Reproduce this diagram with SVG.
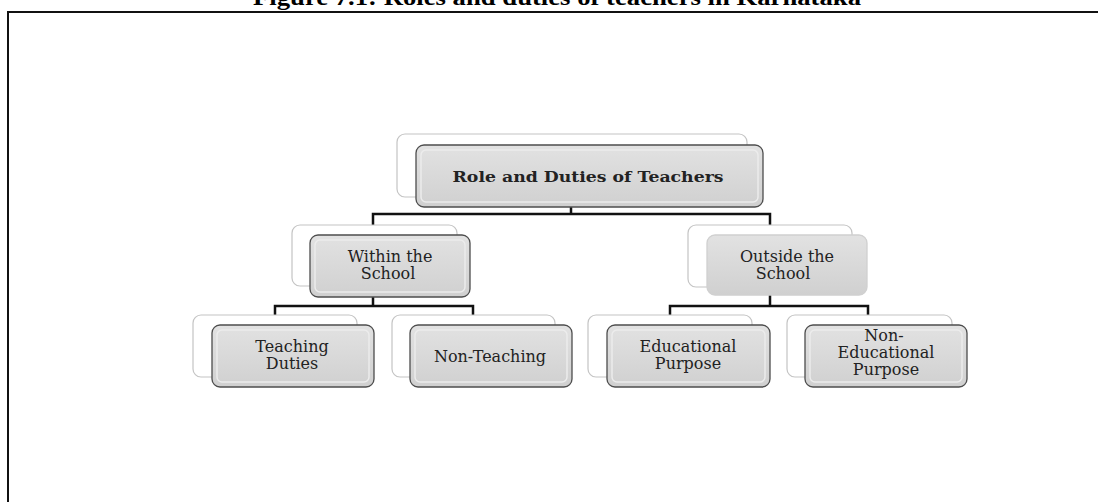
<svg xmlns="http://www.w3.org/2000/svg" width="1098" height="502" viewBox="0 0 1098 502">
<defs>
<linearGradient id="g" x1="0" y1="0" x2="0" y2="1">
<stop offset="0" stop-color="#e2e2e2"/>
<stop offset="1" stop-color="#d0d0d0"/>
</linearGradient>
<style>
.back{fill:#ffffff;stroke:#c4c4c4;stroke-width:1.2}
.front{fill:url(#g);stroke:#4d4d4d;stroke-width:1.3}
.frontl{fill:url(#g);stroke:#d0d0d0;stroke-width:1.3}
.inner{fill:none;stroke:#ececec;stroke-width:1.5}
.t{font-family:"DejaVu Serif","Liberation Serif",serif;fill:#222;text-anchor:middle;font-size:16px}
.tb{font-weight:bold;font-size:15px}
.title{font-family:"Liberation Serif","Times New Roman",serif;font-weight:bold;fill:#000;text-anchor:middle}
.c{fill:none;stroke:#111;stroke-width:2.5}
</style>
</defs>
<rect x="0" y="0" width="1098" height="502" fill="#ffffff"/>
<text x="557" y="5" class="title" font-size="23" textLength="608" lengthAdjust="spacingAndGlyphs">Figure 7.1: Roles and duties of teachers in Karnataka</text>
<path d="M8 502 V12 H1098" fill="none" stroke="#111" stroke-width="2"/>

<g id="connectors">
<path class="c" d="M571 207 V214 M373 225 V214 H770 V225"/>
<path class="c" d="M373 297 V306 M275 315 V306 H473 V315"/>
<path class="c" d="M770 295 V306 M670 315 V306 H868 V315"/>
</g>

<g id="root">
<rect class="back" x="397" y="134" width="350" height="63" rx="8"/>
<rect class="front" x="416" y="145" width="347" height="62" rx="8"/>
<rect class="inner" x="421" y="150" width="337" height="52" rx="5"/>
<text class="t tb" x="588" y="182" textLength="271" lengthAdjust="spacingAndGlyphs">Role and Duties of Teachers</text>
</g>

<g id="within">
<rect class="back" x="292" y="225" width="165" height="61" rx="8"/>
<rect class="front" x="310" y="235" width="160" height="62" rx="8"/>
<rect class="inner" x="315" y="240" width="150" height="52" rx="5"/>
<text class="t" x="390" y="262">Within the</text>
<text class="t" x="388" y="279">School</text>
</g>

<g id="outside">
<rect class="back" x="688" y="225" width="164" height="62" rx="8"/>
<rect class="frontl" x="707" y="235" width="160" height="60" rx="8"/>
<text class="t" x="787" y="262">Outside the</text>
<text class="t" x="783" y="279">School</text>
</g>

<g id="teaching">
<rect class="back" x="193" y="315" width="164" height="62" rx="8"/>
<rect class="front" x="212" y="325" width="162" height="62" rx="8"/>
<rect class="inner" x="217" y="330" width="152" height="52" rx="5"/>
<text class="t" x="292" y="352">Teaching</text>
<text class="t" x="292" y="369">Duties</text>
</g>

<g id="nonteaching">
<rect class="back" x="392" y="315" width="163" height="62" rx="8"/>
<rect class="front" x="410" y="325" width="162" height="62" rx="8"/>
<rect class="inner" x="415" y="330" width="152" height="52" rx="5"/>
<text class="t" x="490" y="362">Non-Teaching</text>
</g>

<g id="educational">
<rect class="back" x="588" y="315" width="164" height="62" rx="8"/>
<rect class="front" x="607" y="325" width="163" height="62" rx="8"/>
<rect class="inner" x="612" y="330" width="153" height="52" rx="5"/>
<text class="t" x="688" y="352">Educational</text>
<text class="t" x="688" y="369">Purpose</text>
</g>

<g id="noneducational">
<rect class="back" x="787" y="315" width="165" height="62" rx="8"/>
<rect class="front" x="805" y="325" width="162" height="62" rx="8"/>
<rect class="inner" x="810" y="330" width="152" height="52" rx="5"/>
<text class="t" x="884" y="341">Non-</text>
<text class="t" x="886" y="358">Educational</text>
<text class="t" x="886" y="375">Purpose</text>
</g>
</svg>
